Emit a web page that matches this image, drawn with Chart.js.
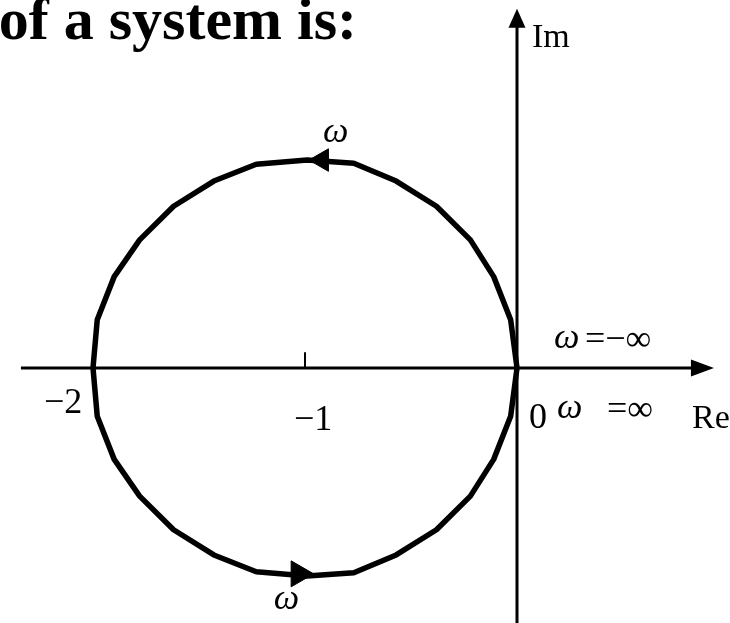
<!DOCTYPE html>
<html>
<head>
<meta charset="utf-8">
<script src="https://cdn.jsdelivr.net/npm/chart.js@4"></script>
<style>
  html, body { margin: 0; padding: 0; background: #fff; }
  #wrap { width: 730px; height: 623px; }
</style>
</head>
<body>
<div id="wrap"><canvas id="myChart" width="730" height="623"></canvas></div>
<script>
// Nyquist contour: a polygon around -1, run from 0 over the top and back
const reValues = [0, -0.03, -0.11, -0.22, -0.38, -0.57, -0.77, -0.99, -1.23, -1.43, -1.62, -1.78, -1.90, -1.98, -2.00,
                  -1.98, -1.90, -1.78, -1.62, -1.43, -1.23, -0.99, -0.77, -0.57, -0.38, -0.22, -0.11, -0.03, 0];
const imValues = [0, 0.23, 0.435, 0.61, 0.77, 0.89, 0.975, 0.99, 0.97, 0.89, 0.77, 0.61, 0.435, 0.23, 0,
                  -0.23, -0.435, -0.61, -0.77, -0.89, -0.97, -0.99, -0.975, -0.89, -0.77, -0.61, -0.435, -0.23, 0];

// direction arrows sitting on the contour
const arrowRe = [-0.92, -1.03];
const arrowIm = [0.99, -0.98];
const arrowRotation = [-90, 90];

// labels on the real axis
const tickValues = [-2, -1, 0];
const tickLabels = ['\u22122', '\u22121', '0'];

// extent of the drawn axes (in Re / Im units)
const reAxis = [-2.34, 0.83];
const imAxis = [-1.4, 1.63];

function pts(xs, ys) {
    return xs.map((x, i) => ({ x: x, y: ys[i] }));
}

const serif = '"Liberation Serif", "Times New Roman", serif';

const annotations = {
    id: 'annotations',
    afterDatasetsDraw(chart) {
        const ctx = chart.ctx;
        const sx = chart.scales.x, sy = chart.scales.y;
        const x0 = sx.getPixelForValue(0);
        const y0 = sy.getPixelForValue(0);
        ctx.save();
        ctx.fillStyle = '#000';

        // axis arrowheads
        const reEnd = sx.getPixelForValue(reAxis[1]);
        ctx.beginPath();
        ctx.moveTo(reEnd - 2, y0 - 8.5);
        ctx.lineTo(reEnd + 21, y0);
        ctx.lineTo(reEnd - 2, y0 + 8.5);
        ctx.closePath();
        ctx.fill();
        const imEnd = sy.getPixelForValue(imAxis[1]);
        ctx.beginPath();
        ctx.moveTo(x0 - 8.5, imEnd + 2);
        ctx.lineTo(x0, imEnd - 17);
        ctx.lineTo(x0 + 8.5, imEnd + 2);
        ctx.closePath();
        ctx.fill();

        // title fragment, cut by the left edge
        ctx.textBaseline = 'alphabetic';
        ctx.textAlign = 'right';
        ctx.font = 'bold 60px ' + serif;
        ctx.fillText('of a system is:', 357, 39);

        // tick labels
        ctx.textAlign = 'left';
        ctx.font = '36px ' + serif;
        const offs = [[-49, 45], [-11, 62], [12, 60]];
        tickValues.forEach((v, i) => {
            ctx.fillText(tickLabels[i], sx.getPixelForValue(v) + offs[i][0], y0 + offs[i][1]);
        });

        // axis names
        ctx.font = '34px ' + serif;
        ctx.fillText('Re', x0 + 175, y0 + 60);
        ctx.fillText('Im', x0 + 15, imEnd + 21);

        // omega labels
        ctx.font = 'italic 36px ' + serif;
        ctx.fillText('\u03c9', x0 + 40, y0 + 50);
        ctx.fillText('\u03c9', x0 + 37, y0 - 20);
        ctx.fillText('\u03c9', sx.getPixelForValue(arrowRe[0]) + 1, sy.getPixelForValue(arrowIm[0]) - 18);
        ctx.fillText('\u03c9', sx.getPixelForValue(arrowRe[1]) - 25, sy.getPixelForValue(arrowIm[1]) + 35);
        ctx.font = '36px ' + serif;
        ctx.fillText('=\u221e', x0 + 90, y0 + 52);
        ctx.fillText('=\u2212\u221e', x0 + 68, y0 - 18);

        ctx.restore();
    }
};

const ctx = document.getElementById('myChart').getContext('2d');
const myChart = new Chart(ctx, {
    type: 'scatter',
    data: {
        datasets: [
            {
                // real axis
                data: pts(reAxis, [0, 0]),
                showLine: true,
                borderColor: '#000',
                borderWidth: 3,
                pointRadius: 0
            },
            {
                // imaginary axis
                data: pts([0, 0], imAxis),
                showLine: true,
                borderColor: '#000',
                borderWidth: 3,
                pointRadius: 0
            },
            {
                // small tick at -1
                data: pts([-1, -1], [0, 0.075]),
                showLine: true,
                borderColor: '#000',
                borderWidth: 2,
                pointRadius: 0
            },
            {
                label: 'G(j\u03c9)',
                data: pts(reValues, imValues),
                showLine: true,
                borderColor: '#000',
                borderWidth: 5.5,
                borderJoinStyle: 'round',
                pointRadius: 0,
                tension: 0
            },
            {
                // direction arrows
                data: pts(arrowRe, arrowIm),
                showLine: false,
                pointStyle: 'triangle',
                pointRadius: [13, 15],
                rotation: arrowRotation,
                backgroundColor: '#000',
                borderColor: '#000',
                borderWidth: 1
            }
        ]
    },
    options: {
        responsive: false,
        animation: false,
        layout: { padding: 0, autoPadding: false },
        plugins: {
            legend: { display: false },
            tooltip: { enabled: false }
        },
        scales: {
            x: { type: 'linear', min: -2.4387, max: 1.0047, display: false },
            y: { type: 'linear', min: -1.214, max: 1.752, display: false }
        }
    },
    plugins: [annotations]
});
</script>
</body>
</html>
